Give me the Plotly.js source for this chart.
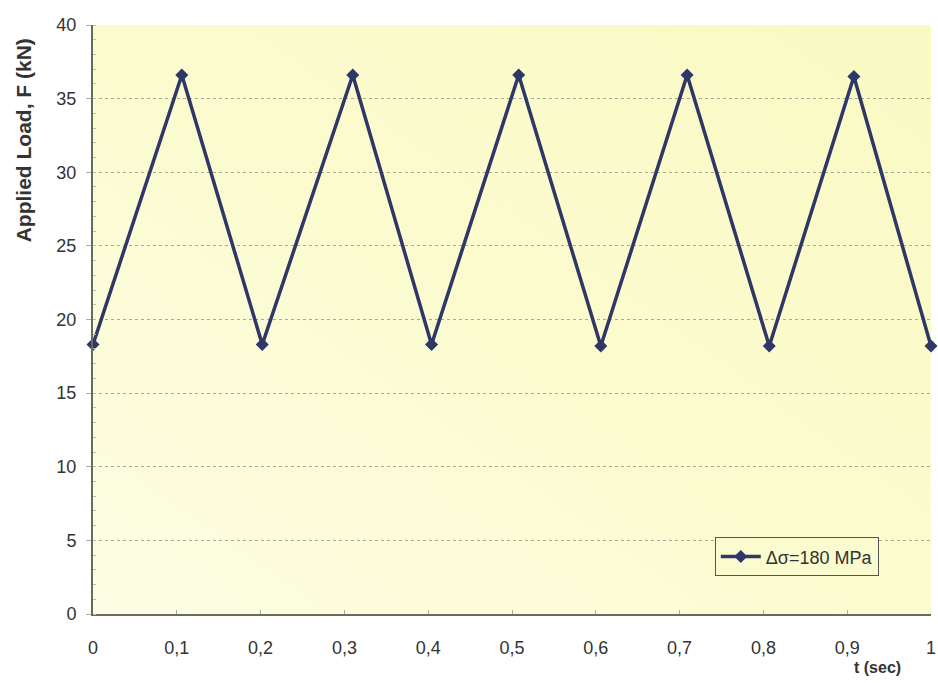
<!DOCTYPE html>
<html>
<head>
<meta charset="utf-8">
<script src="https://cdn.plot.ly/plotly-3.0.1.min.js"></script>
<style>html,body{margin:0;padding:0;background:#fff;}#chart{width:938px;height:683px;}</style>
</head>
<body>
<div id="chart"></div>
<script>
const tValues = [0, 0.106, 0.202, 0.310, 0.404, 0.508, 0.606, 0.709, 0.807, 0.908, 1.0];
const loadValues = [18.3, 36.6, 18.3, 36.6, 18.3, 36.6, 18.2, 36.6, 18.2, 36.5, 18.2];
const seriesName = 'Δσ=180 MPa';
const xTickVals = [0, 0.1, 0.2, 0.3, 0.4, 0.5, 0.6, 0.7, 0.8, 0.9, 1];
const xTickText = ['0', '0,1', '0,2', '0,3', '0,4', '0,5', '0,6', '0,7', '0,8', '0,9', '1'];
const yTickVals = [0, 5, 10, 15, 20, 25, 30, 35, 40];

const bgSvg = '<svg xmlns="http://www.w3.org/2000/svg" width="100" height="100" preserveAspectRatio="none"><defs><linearGradient id="g" x1="0" y1="1" x2="1" y2="0"><stop offset="0" stop-color="#fdfde4"/><stop offset="0.5" stop-color="#fbfbcf"/><stop offset="1" stop-color="#fafac4"/></linearGradient></defs><rect width="100" height="100" fill="url(#g)"/></svg>';
const bgUri = 'data:image/svg+xml;charset=utf-8,' + encodeURIComponent(bgSvg);

const trace = {
  x: tValues, y: loadValues, name: seriesName,
  type: 'scatter', mode: 'lines+markers',
  line: {color: '#2e3766', width: 3.5},
  marker: {symbol: 'diamond', size: 10, color: '#2e3766'},
  cliponaxis: false
};

const font = 'Liberation Sans, Arial, sans-serif';
const layout = {
  width: 938, height: 683,
  margin: {l: 93, r: 7, t: 25, b: 69},
  paper_bgcolor: '#ffffff',
  plot_bgcolor: '#fafacb',
  font: {family: font, color: '#333333'},
  showlegend: true,
  legend: {
    x: 0.742, y: 0.097, xanchor: 'left', yanchor: 'middle',
    bgcolor: 'rgba(251,251,208,1)', bordercolor: '#555555', borderwidth: 1,
    itemwidth: 40,
    font: {family: font, size: 18, color: '#333333'}
  },
  images: [{source: bgUri, xref: 'paper', yref: 'paper', x: 0, y: 1, sizex: 1, sizey: 1, sizing: 'stretch', layer: 'below'}],
  xaxis: {
    range: [0, 1], tickvals: xTickVals, ticktext: xTickText,
    showgrid: false, zeroline: false,
    showline: true, linecolor: '#6a6a5a', linewidth: 2,
    ticks: 'inside', ticklen: 4, tickcolor: '#aaaaaa',
    tickfont: {family: font, size: 18, color: '#333333'},
    ticklabelstandoff: 16,
    ticklabeloverflow: 'allow'
  },
  yaxis: {
    range: [0, 40], tickvals: yTickVals,
    showgrid: true, gridcolor: '#a8a898', gridwidth: 1, griddash: 'dot',
    zeroline: false,
    showline: true, linecolor: '#6a6a5a', linewidth: 2,
    ticks: 'outside', ticklen: 5, tickcolor: '#aaaaaa',
    tickfont: {family: font, size: 18, color: '#333333'},
    ticklabelstandoff: 6,
    minor: {dtick: 1, ticks: 'inside', ticklen: 3, tickcolor: '#bbbbbb', showgrid: false}
  },
  annotations: [
    {text: '<b>Applied Load, F (kN)</b>', xref: 'paper', yref: 'paper', x: -0.083, y: 0.805,
     xanchor: 'center', yanchor: 'middle', textangle: -90, showarrow: false,
     font: {family: font, size: 21, color: '#333333'}},
    {text: '<b>t (sec)</b>', xref: 'paper', yref: 'paper', x: 0.936, y: -0.09,
     xanchor: 'center', yanchor: 'middle', showarrow: false,
     font: {family: font, size: 16, color: '#333333'}}
  ]
};

Plotly.newPlot('chart', [trace], layout, {displayModeBar: false, staticPlot: true});
</script>
</body>
</html>
